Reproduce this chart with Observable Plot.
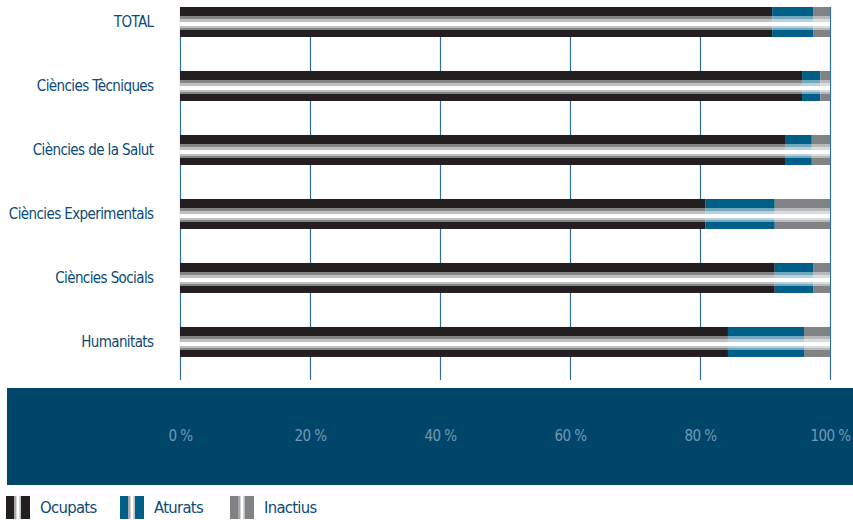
<!DOCTYPE html>
<html>
<head>
<meta charset="utf-8">
<script src="https://cdn.jsdelivr.net/npm/d3@7"></script>
<script src="https://cdn.jsdelivr.net/npm/@observablehq/plot@0.6"></script>
<style>
  html, body { margin: 0; padding: 0; background: #fff; }
  body { width: 853px; height: 520px; overflow: hidden; font-family: "DejaVu Sans Condensed", "DejaVu Sans", sans-serif; font-stretch: condensed; }
  #wrap { position: relative; width: 853px; height: 485px; }
  #band { position: absolute; left: 7px; top: 388px; width: 846px; height: 97px; background: #00466a; }
  #chart { position: absolute; left: 0; top: 0; }
  #chart text { letter-spacing: -0.6px; }
  #legend { position: relative; height: 35px; color: #0c4a77; font-size: 16.5px; letter-spacing: -0.7px; }
  .item { position: absolute; top: 11px; height: 23px; display: flex; align-items: center; }
  .sw { width: 24px; height: 23px; margin-right: 10px; }
</style>
</head>
<body>
<div id="wrap"><div id="band"></div><div id="chart"></div></div>
<div id="legend"></div>
<script>
const categories = ["TOTAL", "Ciències Tècniques", "Ciències de la Salut", "Ciències Experimentals", "Ciències Socials", "Humanitats"];
const series = ["Ocupats", "Aturats", "Inactius"];
const colors = ["#231f20", "#005f87", "#808285"];
const ocupats  = [91.1, 95.7, 93.2, 80.8, 91.5, 84.3];
const aturats  = [6.3, 2.8, 4.0, 10.7, 5.9, 11.7];
const inactius = [2.6, 1.5, 2.8, 8.5, 2.6, 4.0];
const xTicks = [0, 20, 40, 60, 80, 100];

const values = [ocupats, aturats, inactius];
const rows = [];
series.forEach((s, i) => categories.forEach((c, j) => rows.push({category: c, series: s, value: values[i][j]})));
const totals = categories.map((c, j) => ({category: c, total: ocupats[j] + aturats[j] + inactius[j]}));

const svg = Plot.plot({
  width: 853,
  height: 485,
  marginLeft: 180,
  marginRight: 23,
  marginTop: 7,
  marginBottom: 105,
  style: {background: "transparent", fontFamily: "'DejaVu Sans Condensed', 'DejaVu Sans', sans-serif"},
  x: {domain: [0, 100], axis: null},
  y: {domain: categories, paddingInner: 0.53125, paddingOuter: 0.18, align: 0, round: false, axis: null},
  color: {domain: series, range: colors},
  marks: [
    Plot.ruleX(xTicks, {stroke: "#2f6f98", strokeWidth: 1.2}),
    Plot.barX(rows, Plot.stackX({x: "value", y: "category", fill: "series", order: series})),
    Plot.barX(totals, {x1: 0, x2: "total", y: "category", fill: "url(#stripe)"}),
    Plot.axisY({tickSize: 0, tickPadding: 27, fontSize: 15, color: "#0c4a77", label: null}),
    Plot.axisX(xTicks, {tickSize: 0, tickPadding: 50, fontSize: 15, color: "#7299b4", label: null, tickFormat: d => d + " %"})
  ]
});

const defs = d3.select(svg).insert("defs", ":first-child");
const g = defs.append("linearGradient").attr("id", "stripe").attr("x1", 0).attr("y1", 0).attr("x2", 0).attr("y2", 1);
[[0, 0], [0.29, 0], [0.31, 0.45], [0.39, 0.45], [0.41, 0.72], [0.49, 0.72], [0.51, 1], [0.62, 1], [0.64, 0.72], [0.69, 0.72], [0.71, 0.45], [0.76, 0.45], [0.78, 0], [1, 0]]
  .forEach(([o, a]) => g.append("stop").attr("offset", o).attr("stop-color", "#fff").attr("stop-opacity", a));
document.getElementById("chart").appendChild(svg);

const legend = document.getElementById("legend");
const legendX = [6, 120, 230];
series.forEach((s, i) => {
  const item = document.createElement("div");
  item.className = "item";
  item.style.left = legendX[i] + "px";
  const sw = document.createElement("div");
  sw.className = "sw";
  const c = colors[i];
  sw.style.background = `linear-gradient(to right, ${c} 0%, ${c} 33%, #a7a9ab 34%, #a7a9ab 40%, #d4d5d6 41%, #d4d5d6 46%, #fff 47%, #fff 54%, #d4d5d6 55%, #d4d5d6 60%, #a7a9ab 61%, #a7a9ab 63%, ${c} 64%, ${c} 100%)`;
  const lab = document.createElement("span");
  lab.textContent = s;
  item.appendChild(sw);
  item.appendChild(lab);
  legend.appendChild(item);
});
</script>
</body>
</html>
